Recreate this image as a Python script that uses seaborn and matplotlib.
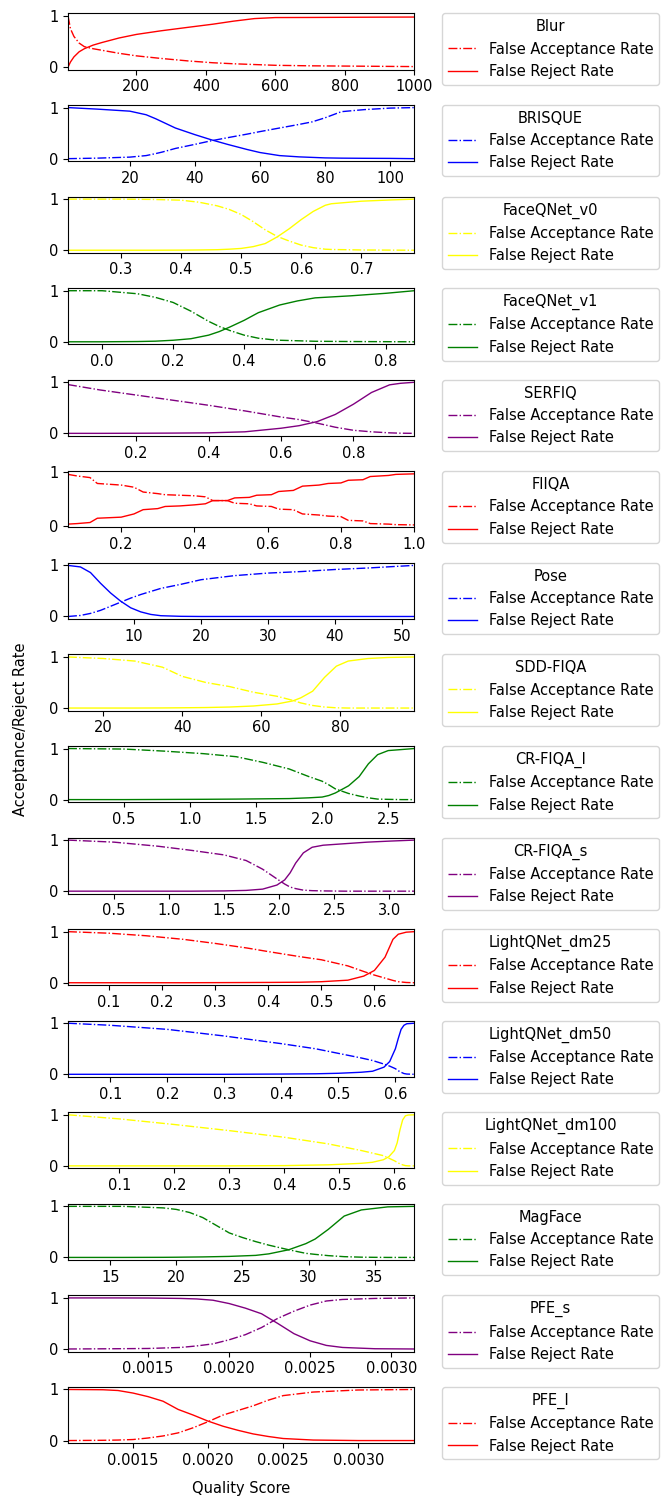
import matplotlib
matplotlib.use("Agg")
import matplotlib.pyplot as plt
import seaborn as sns

plt.rcParams["font.size"] = 10.5

# method names and colours (colour cycle as in the original)
methods = ["Blur", "BRISQUE", "FaceQNet_v0", "FaceQNet_v1", "SERFIQ", "FIIQA",
           "Pose", "SDD-FIQA", "CR-FIQA_l", "CR-FIQA_s", "LightQNet_dm25",
           "LightQNet_dm50", "LightQNet_dm100", "MagFace", "PFE_s", "PFE_l"]
colors = ["red", "blue", "yellow", "green", "purple"]

blur_x = [3, 10, 20, 35, 50, 75, 100, 150, 200, 270, 350, 420, 480, 540, 600, 700, 800, 900, 1000]
blur_far = [1.0, 0.75, 0.6, 0.47, 0.4, 0.36, 0.33, 0.27, 0.22, 0.17, 0.12, 0.085, 0.065, 0.05, 0.035, 0.025, 0.02, 0.015, 0.01]
blur_frr = [0.0, 0.1, 0.2, 0.3, 0.36, 0.43, 0.48, 0.57, 0.64, 0.71, 0.78, 0.84, 0.9, 0.95, 0.97, 0.972, 0.975, 0.978, 0.98]

brisque_x = [1, 10, 15, 20, 25, 28, 30, 34, 40, 45, 50, 56, 60, 66, 72, 76, 80, 85, 92, 100, 107.4]
brisque_far = [0.0, 0.01, 0.02, 0.03, 0.06, 0.1, 0.13, 0.2, 0.28, 0.35, 0.41, 0.48, 0.53, 0.6, 0.67, 0.72, 0.8, 0.92, 0.96, 0.99, 1.0]
brisque_frr = [1.0, 0.97, 0.95, 0.93, 0.86, 0.78, 0.72, 0.6, 0.47, 0.37, 0.28, 0.18, 0.12, 0.06, 0.035, 0.025, 0.015, 0.01, 0.007, 0.005, 0.0]

fqv0_x = [0.212, 0.3, 0.35, 0.4, 0.43, 0.46, 0.48, 0.5, 0.52, 0.54, 0.56, 0.58, 0.6, 0.62, 0.64, 0.65, 0.7, 0.75, 0.788]
fqv0_far = [1.0, 1.0, 0.995, 0.98, 0.94, 0.87, 0.8, 0.7, 0.56, 0.4, 0.27, 0.18, 0.1, 0.05, 0.02, 0.015, 0.005, 0.002, 0.0]
fqv0_frr = [0.0, 0.0, 0.0, 0.002, 0.005, 0.01, 0.02, 0.035, 0.07, 0.13, 0.26, 0.42, 0.6, 0.76, 0.88, 0.91, 0.96, 0.985, 1.0]

fqv1_x = [-0.096, 0.0, 0.1, 0.15, 0.2, 0.25, 0.3, 0.33, 0.36, 0.4, 0.44, 0.48, 0.5, 0.55, 0.6, 0.7, 0.8, 0.879]
fqv1_far = [1.0, 1.0, 0.94, 0.87, 0.77, 0.6, 0.4, 0.3, 0.22, 0.13, 0.07, 0.04, 0.03, 0.02, 0.01, 0.005, 0.002, 0.0]
fqv1_frr = [0.0, 0.0, 0.005, 0.012, 0.03, 0.06, 0.13, 0.2, 0.29, 0.42, 0.57, 0.67, 0.72, 0.8, 0.86, 0.9, 0.95, 1.0]

serfiq_x = [0.012, 0.1, 0.2, 0.3, 0.4, 0.5, 0.6, 0.65, 0.7, 0.75, 0.8, 0.85, 0.9, 0.93, 0.968]
serfiq_far = [0.955, 0.85, 0.75, 0.65, 0.55, 0.44, 0.32, 0.27, 0.2, 0.12, 0.06, 0.03, 0.01, 0.003, 0.0]
serfiq_frr = [0.0, 0.0, 0.002, 0.005, 0.01, 0.03, 0.1, 0.15, 0.23, 0.37, 0.57, 0.8, 0.95, 0.98, 1.0]

fiiqa_x = [0.055, 0.08, 0.115, 0.135, 0.2, 0.235, 0.26, 0.3, 0.32, 0.36, 0.4, 0.43, 0.45, 0.49, 0.51,
           0.55, 0.57, 0.61, 0.63, 0.67, 0.695, 0.74, 0.765, 0.8, 0.82, 0.86, 0.88, 0.93, 0.95, 1.0]
fiiqa_far = [0.96, 0.93, 0.9, 0.79, 0.76, 0.72, 0.63, 0.6, 0.58, 0.57, 0.56, 0.54, 0.47, 0.47, 0.42,
             0.41, 0.37, 0.36, 0.31, 0.3, 0.22, 0.2, 0.18, 0.17, 0.1, 0.09, 0.04, 0.03, 0.02, 0.015]
fiiqa_frr = [0.03, 0.04, 0.06, 0.14, 0.16, 0.22, 0.3, 0.32, 0.36, 0.37, 0.39, 0.41, 0.47, 0.47, 0.52,
             0.53, 0.57, 0.58, 0.64, 0.66, 0.74, 0.76, 0.79, 0.8, 0.85, 0.86, 0.92, 0.94, 0.96, 0.97]

pose_x = [0.15, 2, 3.5, 5, 6.5, 8, 9.5, 11, 12.5, 14, 17, 20, 25, 30, 35, 40, 45, 49, 51.8]
pose_far = [0.0, 0.02, 0.06, 0.12, 0.2, 0.28, 0.36, 0.43, 0.49, 0.55, 0.63, 0.72, 0.8, 0.85, 0.88, 0.92, 0.95, 0.98, 1.0]
pose_frr = [1.0, 0.97, 0.86, 0.65, 0.46, 0.3, 0.17, 0.09, 0.04, 0.015, 0.003, 0.0, 0.0, 0.0, 0.0, 0.0, 0.0, 0.0, 0.0]

sdd_x = [11.1, 20, 28, 35, 40, 46, 52, 58, 64, 68, 70, 73, 76, 79, 82, 87, 92, 98.7]
sdd_far = [1.0, 0.97, 0.92, 0.8, 0.62, 0.5, 0.42, 0.31, 0.23, 0.15, 0.1, 0.05, 0.02, 0.005, 0.0, 0.0, 0.0, 0.0]
sdd_frr = [0.0, 0.0, 0.0, 0.002, 0.005, 0.01, 0.02, 0.04, 0.08, 0.14, 0.2, 0.33, 0.6, 0.82, 0.92, 0.97, 0.99, 1.0]

crl_x = [0.076, 0.5, 0.8, 1.1, 1.35, 1.55, 1.75, 1.9, 2.0, 2.05, 2.1, 2.2, 2.28, 2.35, 2.42, 2.5, 2.6, 2.697]
crl_far = [1.0, 0.99, 0.95, 0.9, 0.84, 0.73, 0.6, 0.45, 0.36, 0.29, 0.21, 0.12, 0.07, 0.035, 0.01, 0.005, 0.0, 0.0]
crl_frr = [0.0, 0.0, 0.003, 0.006, 0.01, 0.015, 0.02, 0.035, 0.05, 0.08, 0.13, 0.27, 0.45, 0.7, 0.88, 0.96, 0.98, 1.0]

crs_x = [0.082, 0.5, 0.9, 1.2, 1.5, 1.7, 1.85, 1.98, 2.05, 2.1, 2.15, 2.22, 2.3, 2.4, 2.6, 2.8, 3.0, 3.227]
crs_far = [1.0, 0.96, 0.88, 0.8, 0.71, 0.6, 0.43, 0.24, 0.14, 0.08, 0.05, 0.02, 0.01, 0.005, 0.0, 0.0, 0.0, 0.0]
crs_frr = [0.0, 0.0, 0.0, 0.0, 0.005, 0.015, 0.04, 0.12, 0.22, 0.36, 0.55, 0.75, 0.86, 0.9, 0.93, 0.96, 0.98, 1.0]

dm25_x = [0.023, 0.1, 0.17, 0.24, 0.3, 0.36, 0.4, 0.46, 0.5, 0.55, 0.58, 0.6, 0.62, 0.635, 0.645, 0.66, 0.675]
dm25_far = [1.0, 0.97, 0.92, 0.85, 0.77, 0.68, 0.61, 0.51, 0.45, 0.33, 0.22, 0.15, 0.09, 0.045, 0.02, 0.005, 0.0]
dm25_frr = [0.0, 0.0, 0.0, 0.0, 0.002, 0.004, 0.006, 0.01, 0.02, 0.05, 0.13, 0.24, 0.5, 0.85, 0.95, 0.99, 1.0]

dm50_x = [0.026, 0.1, 0.2, 0.3, 0.4, 0.46, 0.5, 0.54, 0.56, 0.58, 0.59, 0.6, 0.605, 0.61, 0.615, 0.62, 0.633]
dm50_far = [1.0, 0.96, 0.88, 0.75, 0.6, 0.5, 0.41, 0.32, 0.27, 0.2, 0.16, 0.11, 0.07, 0.04, 0.015, 0.005, 0.0]
dm50_frr = [0.0, 0.0, 0.0, 0.0, 0.005, 0.01, 0.02, 0.04, 0.06, 0.14, 0.25, 0.5, 0.7, 0.88, 0.96, 0.99, 1.0]

dm100_x = [0.007, 0.1, 0.2, 0.3, 0.4, 0.48, 0.54, 0.56, 0.58, 0.59, 0.6, 0.605, 0.61, 0.615, 0.62, 0.625, 0.636]
dm100_far = [1.0, 0.92, 0.81, 0.69, 0.56, 0.43, 0.3, 0.25, 0.2, 0.15, 0.1, 0.07, 0.04, 0.02, 0.005, 0.0, 0.0]
dm100_frr = [0.0, 0.0, 0.0, 0.0, 0.005, 0.02, 0.05, 0.07, 0.12, 0.18, 0.3, 0.45, 0.7, 0.9, 0.98, 0.995, 1.0]

mag_x = [11.8, 16, 19, 20, 21, 22, 23, 24, 25, 26, 27, 28.5, 29.8, 30.5, 31.5, 32.7, 34, 35, 36, 38]
mag_far = [1.0, 1.0, 0.97, 0.94, 0.88, 0.78, 0.63, 0.48, 0.39, 0.31, 0.24, 0.15, 0.08, 0.06, 0.035, 0.015, 0.005, 0.002, 0.0, 0.0]
mag_frr = [0.0, 0.0, 0.002, 0.004, 0.007, 0.01, 0.015, 0.02, 0.03, 0.04, 0.07, 0.15, 0.27, 0.36, 0.55, 0.81, 0.93, 0.96, 0.99, 1.0]

pfes_x = [0.001006, 0.0013, 0.0015, 0.0017, 0.0018, 0.0019, 0.002, 0.0021, 0.0022, 0.0023, 0.0024, 0.0025, 0.0026, 0.0027, 0.0029, 0.003142]
pfes_far = [0.0, 0.005, 0.01, 0.03, 0.06, 0.1, 0.18, 0.28, 0.42, 0.6, 0.74, 0.86, 0.94, 0.97, 0.99, 1.0]
pfes_frr = [1.0, 1.0, 0.998, 0.99, 0.98, 0.955, 0.89, 0.8, 0.69, 0.5, 0.3, 0.16, 0.07, 0.03, 0.005, 0.0]

pfel_x = [0.001067, 0.0013, 0.0014, 0.0015, 0.0016, 0.0017, 0.0018, 0.0019, 0.002, 0.0021, 0.0022, 0.0023, 0.0024, 0.0025, 0.0027, 0.003, 0.003373]
pfel_far = [0.0, 0.005, 0.01, 0.02, 0.05, 0.09, 0.15, 0.25, 0.37, 0.5, 0.59, 0.68, 0.79, 0.88, 0.95, 0.99, 1.0]
pfel_frr = [1.0, 0.995, 0.98, 0.93, 0.86, 0.77, 0.61, 0.5, 0.38, 0.28, 0.2, 0.13, 0.08, 0.04, 0.01, 0.0, 0.0]

curves = [
    (blur_x, blur_far, blur_frr), (brisque_x, brisque_far, brisque_frr),
    (fqv0_x, fqv0_far, fqv0_frr), (fqv1_x, fqv1_far, fqv1_frr),
    (serfiq_x, serfiq_far, serfiq_frr), (fiiqa_x, fiiqa_far, fiiqa_frr),
    (pose_x, pose_far, pose_frr), (sdd_x, sdd_far, sdd_frr),
    (crl_x, crl_far, crl_frr), (crs_x, crs_far, crs_frr),
    (dm25_x, dm25_far, dm25_frr), (dm50_x, dm50_far, dm50_frr),
    (dm100_x, dm100_far, dm100_frr), (mag_x, mag_far, mag_frr),
    (pfes_x, pfes_far, pfes_frr), (pfel_x, pfel_far, pfel_frr),
]

fig, axes = plt.subplots(16, 1, figsize=(6.67, 14.97), dpi=100)
fig.subplots_adjust(left=0.102, right=0.621, top=0.991, bottom=0.036, hspace=0.63)

for i, (ax, name, (x, far, frr)) in enumerate(zip(axes, methods, curves)):
    c = colors[i % len(colors)]
    sns.lineplot(x=x, y=far, ax=ax, color=c, linestyle="-.", lw=1, label="False Acceptance Rate")
    sns.lineplot(x=x, y=frr, ax=ax, color=c, linestyle="-", lw=1, label="False Reject Rate")
    ax.set_xlim(min(x), max(x))
    ax.set_yticks([0, 1])
    ax.set_xlabel("")
    ax.set_ylabel("")
    ax.legend(title=name, loc="upper left", bbox_to_anchor=(1.08, 1), borderaxespad=0)

fig.text(0.03, 0.513, "Acceptance/Reject Rate", rotation=90, ha="center", va="center")
fig.text(241 / 667, 1 - 1488 / 1497, "Quality Score", ha="center", va="center")

fig.savefig("out.png", dpi=100)
